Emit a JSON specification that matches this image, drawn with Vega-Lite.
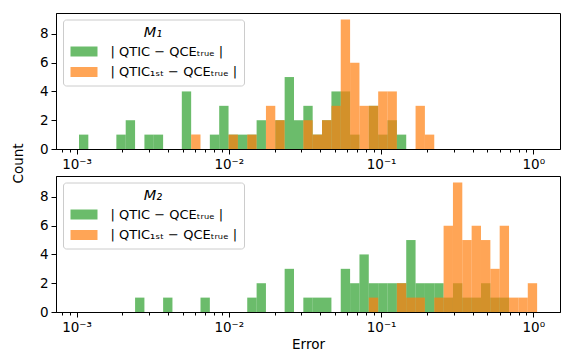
{
  "$schema": "https://vega.github.io/schema/vega-lite/v6.json",
  "padding": {"left": 10, "top": 12, "right": 5, "bottom": 5},
  "background": "white",
  "config": {
    "font": "DejaVu Sans",
    "view": {"stroke": "black", "strokeWidth": 1},
    "axis": {"domainColor": "black", "tickColor": "black", "labelColor": "black", "titleColor": "black", "labelFontSize": 13.5, "titleFontSize": 13.5, "titleFontWeight": "normal", "grid": false, "tickWidth": 1, "domainWidth": 1, "labelPadding": 3},
    "legend": {"labelFontSize": 13, "titleFontSize": 14.5, "labelColor": "black", "titleColor": "black"}
  },
  "datasets": {
    "hist": [
      {"panel": "M1", "s": "g", "lo": 0.0010375, "hi": 0.0011950, "count": 1},
      {"panel": "M1", "s": "g", "lo": 0.0018261, "hi": 0.0021034, "count": 1},
      {"panel": "M1", "s": "g", "lo": 0.0021034, "hi": 0.0024234, "count": 2},
      {"panel": "M1", "s": "g", "lo": 0.0027912, "hi": 0.0032150, "count": 1},
      {"panel": "M1", "s": "g", "lo": 0.0032150, "hi": 0.0037032, "count": 1},
      {"panel": "M1", "s": "g", "lo": 0.0049130, "hi": 0.0056590, "count": 4},
      {"panel": "M1", "s": "g", "lo": 0.0075079, "hi": 0.0086477, "count": 1},
      {"panel": "M1", "s": "g", "lo": 0.0086477, "hi": 0.0099607, "count": 3},
      {"panel": "M1", "s": "g", "lo": 0.0099607, "hi": 0.011473, "count": 1},
      {"panel": "M1", "s": "g", "lo": 0.011473, "hi": 0.013215, "count": 1},
      {"panel": "M1", "s": "g", "lo": 0.013215, "hi": 0.015227, "count": 1},
      {"panel": "M1", "s": "g", "lo": 0.015227, "hi": 0.017538, "count": 2},
      {"panel": "M1", "s": "g", "lo": 0.020200, "hi": 0.023267, "count": 2},
      {"panel": "M1", "s": "g", "lo": 0.023267, "hi": 0.026809, "count": 5},
      {"panel": "M1", "s": "g", "lo": 0.026809, "hi": 0.030868, "count": 2},
      {"panel": "M1", "s": "g", "lo": 0.030868, "hi": 0.035555, "count": 3},
      {"panel": "M1", "s": "g", "lo": 0.035555, "hi": 0.040952, "count": 1},
      {"panel": "M1", "s": "g", "lo": 0.040952, "hi": 0.047206, "count": 2},
      {"panel": "M1", "s": "g", "lo": 0.047206, "hi": 0.054349, "count": 4},
      {"panel": "M1", "s": "g", "lo": 0.054349, "hi": 0.062600, "count": 4},
      {"panel": "M1", "s": "g", "lo": 0.062600, "hi": 0.072130, "count": 1},
      {"panel": "M1", "s": "g", "lo": 0.083051, "hi": 0.095743, "count": 3},
      {"panel": "M1", "s": "g", "lo": 0.095743, "hi": 0.11027, "count": 1},
      {"panel": "M1", "s": "g", "lo": 0.11027, "hi": 0.12701, "count": 2},
      {"panel": "M1", "s": "g", "lo": 0.12701, "hi": 0.14630, "count": 1},
      {"panel": "M1", "s": "o", "lo": 0.0056590, "hi": 0.0065182, "count": 1},
      {"panel": "M1", "s": "o", "lo": 0.0099607, "hi": 0.011473, "count": 1},
      {"panel": "M1", "s": "o", "lo": 0.013215, "hi": 0.015227, "count": 1},
      {"panel": "M1", "s": "o", "lo": 0.017538, "hi": 0.020200, "count": 3},
      {"panel": "M1", "s": "o", "lo": 0.020200, "hi": 0.023267, "count": 2},
      {"panel": "M1", "s": "o", "lo": 0.030868, "hi": 0.035555, "count": 2},
      {"panel": "M1", "s": "o", "lo": 0.035555, "hi": 0.040952, "count": 1},
      {"panel": "M1", "s": "o", "lo": 0.040952, "hi": 0.047206, "count": 2},
      {"panel": "M1", "s": "o", "lo": 0.047206, "hi": 0.054349, "count": 3},
      {"panel": "M1", "s": "o", "lo": 0.054349, "hi": 0.062600, "count": 9},
      {"panel": "M1", "s": "o", "lo": 0.062600, "hi": 0.072130, "count": 6},
      {"panel": "M1", "s": "o", "lo": 0.072130, "hi": 0.083051, "count": 3},
      {"panel": "M1", "s": "o", "lo": 0.083051, "hi": 0.095743, "count": 3},
      {"panel": "M1", "s": "o", "lo": 0.095743, "hi": 0.11027, "count": 4},
      {"panel": "M1", "s": "o", "lo": 0.11027, "hi": 0.12701, "count": 4},
      {"panel": "M1", "s": "o", "lo": 0.16851, "hi": 0.19409, "count": 3},
      {"panel": "M1", "s": "o", "lo": 0.19409, "hi": 0.22356, "count": 1},
      {"panel": "M2", "s": "g", "lo": 0.0024234, "hi": 0.0027912, "count": 1},
      {"panel": "M2", "s": "g", "lo": 0.0037032, "hi": 0.0042654, "count": 1},
      {"panel": "M2", "s": "g", "lo": 0.0065182, "hi": 0.0075079, "count": 1},
      {"panel": "M2", "s": "g", "lo": 0.013215, "hi": 0.015227, "count": 1},
      {"panel": "M2", "s": "g", "lo": 0.015227, "hi": 0.017538, "count": 2},
      {"panel": "M2", "s": "g", "lo": 0.023267, "hi": 0.026809, "count": 3},
      {"panel": "M2", "s": "g", "lo": 0.030868, "hi": 0.035555, "count": 1},
      {"panel": "M2", "s": "g", "lo": 0.035555, "hi": 0.040952, "count": 1},
      {"panel": "M2", "s": "g", "lo": 0.040952, "hi": 0.047206, "count": 1},
      {"panel": "M2", "s": "g", "lo": 0.054349, "hi": 0.062600, "count": 3},
      {"panel": "M2", "s": "g", "lo": 0.062600, "hi": 0.072130, "count": 2},
      {"panel": "M2", "s": "g", "lo": 0.072130, "hi": 0.083051, "count": 4},
      {"panel": "M2", "s": "g", "lo": 0.083051, "hi": 0.095743, "count": 2},
      {"panel": "M2", "s": "g", "lo": 0.095743, "hi": 0.11027, "count": 2},
      {"panel": "M2", "s": "g", "lo": 0.11027, "hi": 0.12701, "count": 2},
      {"panel": "M2", "s": "g", "lo": 0.12701, "hi": 0.14630, "count": 2},
      {"panel": "M2", "s": "g", "lo": 0.14630, "hi": 0.16851, "count": 5},
      {"panel": "M2", "s": "g", "lo": 0.16851, "hi": 0.19409, "count": 2},
      {"panel": "M2", "s": "g", "lo": 0.19409, "hi": 0.22356, "count": 2},
      {"panel": "M2", "s": "g", "lo": 0.22356, "hi": 0.25750, "count": 2},
      {"panel": "M2", "s": "g", "lo": 0.25750, "hi": 0.29660, "count": 1},
      {"panel": "M2", "s": "g", "lo": 0.29660, "hi": 0.34163, "count": 2},
      {"panel": "M2", "s": "g", "lo": 0.34163, "hi": 0.39350, "count": 1},
      {"panel": "M2", "s": "g", "lo": 0.39350, "hi": 0.45324, "count": 1},
      {"panel": "M2", "s": "g", "lo": 0.45324, "hi": 0.52229, "count": 2},
      {"panel": "M2", "s": "g", "lo": 0.52229, "hi": 0.60132, "count": 1},
      {"panel": "M2", "s": "g", "lo": 0.60132, "hi": 0.69262, "count": 1},
      {"panel": "M2", "s": "o", "lo": 0.083051, "hi": 0.095743, "count": 1},
      {"panel": "M2", "s": "o", "lo": 0.12701, "hi": 0.14630, "count": 2},
      {"panel": "M2", "s": "o", "lo": 0.14630, "hi": 0.16851, "count": 1},
      {"panel": "M2", "s": "o", "lo": 0.16851, "hi": 0.19409, "count": 1},
      {"panel": "M2", "s": "o", "lo": 0.22356, "hi": 0.25750, "count": 1},
      {"panel": "M2", "s": "o", "lo": 0.25750, "hi": 0.29660, "count": 6},
      {"panel": "M2", "s": "o", "lo": 0.29660, "hi": 0.34163, "count": 9},
      {"panel": "M2", "s": "o", "lo": 0.34163, "hi": 0.39350, "count": 5},
      {"panel": "M2", "s": "o", "lo": 0.39350, "hi": 0.45324, "count": 6},
      {"panel": "M2", "s": "o", "lo": 0.45324, "hi": 0.52229, "count": 5},
      {"panel": "M2", "s": "o", "lo": 0.52229, "hi": 0.60132, "count": 3},
      {"panel": "M2", "s": "o", "lo": 0.60132, "hi": 0.69262, "count": 6},
      {"panel": "M2", "s": "o", "lo": 0.69262, "hi": 0.79799, "count": 1},
      {"panel": "M2", "s": "o", "lo": 0.79799, "hi": 0.91955, "count": 1},
      {"panel": "M2", "s": "o", "lo": 0.91955, "hi": 1.0593, "count": 2}
    ]
  },
  "spacing": 27,
  "bounds": "flush",
  "resolve": {"legend": {"color": "independent"}},
  "vconcat": [
    {
      "width": 504,
      "height": 136,
      "data": {"name": "hist"},
      "transform": [{"filter": "datum.panel == 'M1'"}],
      "mark": {"type": "bar", "opacity": 0.7},
      "encoding": {
        "x": {"field": "lo", "type": "quantitative",
          "scale": {"type": "log", "domain": [0.000733, 1.497], "nice": false},
          "axis": {"title": null,
            "values": [0.0008, 0.0009, 0.001, 0.002, 0.003, 0.004, 0.005, 0.006, 0.007, 0.008, 0.009, 0.01, 0.02, 0.03, 0.04, 0.05, 0.06, 0.07, 0.08, 0.09, 0.1, 0.2, 0.3, 0.4, 0.5, 0.6, 0.7, 0.8, 0.9, 1],
            "labelExpr": "abs(log(datum.value)/LN10 - round(log(datum.value)/LN10)) < 0.001 ? '10' + ['⁻³','⁻²','⁻¹','⁰'][round(log(datum.value)/LN10) + 3] : ''",
            "tickSize": {"condition": {"test": "abs(log(datum.value)/LN10 - round(log(datum.value)/LN10)) < 0.001", "value": 5}, "value": 3},
            "labelOverlap": false, "labelFlush": false, "labelBound": false}},
        "x2": {"field": "hi"},
        "y": {"field": "count", "type": "quantitative", "stack": null,
          "scale": {"domain": [0, 9.45], "nice": false},
          "axis": {"title": "Count", "values": [0, 2, 4, 6, 8], "tickSize": 5, "titleY": 150, "titlePadding": 14}},
        "y2": {"datum": 0},
        "color": {"field": "s", "type": "nominal",
          "scale": {"domain": ["g", "o"], "range": ["#2ca02c", "#ff7f0e"]},
          "legend": {"orient": "none", "legendX": 7, "legendY": 6.5, "title": "M₁", "titleFontStyle": "italic", "titleFontWeight": "normal", "titleAnchor": "middle", "titlePadding": 5,
            "labelExpr": "datum.value == 'g' ? '| QTIC − QCEₜᵣᵤₑ |' : '| QTIC₁ₛₜ − QCEₜᵣᵤₑ |'",
            "symbolType": "M-2.7,-1H2.7V1H-2.7Z", "symbolSize": 100, "symbolOpacity": 0.7, "symbolStrokeWidth": 0, "symbolOffset": 8.5,
            "labelOffset": 20, "rowPadding": 6.5,
            "fillColor": "rgba(255,255,255,0.8)", "strokeColor": "#cccccc", "cornerRadius": 3, "padding": 6}}
      }
    },
    {
      "width": 504,
      "height": 136,
      "data": {"name": "hist"},
      "transform": [{"filter": "datum.panel == 'M2'"}],
      "mark": {"type": "bar", "opacity": 0.7},
      "encoding": {
        "x": {"field": "lo", "type": "quantitative",
          "scale": {"type": "log", "domain": [0.000733, 1.497], "nice": false},
          "axis": {"title": "Error", "titlePadding": 4,
            "values": [0.0008, 0.0009, 0.001, 0.002, 0.003, 0.004, 0.005, 0.006, 0.007, 0.008, 0.009, 0.01, 0.02, 0.03, 0.04, 0.05, 0.06, 0.07, 0.08, 0.09, 0.1, 0.2, 0.3, 0.4, 0.5, 0.6, 0.7, 0.8, 0.9, 1],
            "labelExpr": "abs(log(datum.value)/LN10 - round(log(datum.value)/LN10)) < 0.001 ? '10' + ['⁻³','⁻²','⁻¹','⁰'][round(log(datum.value)/LN10) + 3] : ''",
            "tickSize": {"condition": {"test": "abs(log(datum.value)/LN10 - round(log(datum.value)/LN10)) < 0.001", "value": 5}, "value": 3},
            "labelOverlap": false, "labelFlush": false, "labelBound": false}},
        "x2": {"field": "hi"},
        "y": {"field": "count", "type": "quantitative", "stack": null,
          "scale": {"domain": [0, 9.45], "nice": false},
          "axis": {"title": null, "values": [0, 2, 4, 6, 8], "tickSize": 5}},
        "y2": {"datum": 0},
        "color": {"field": "s", "type": "nominal",
          "scale": {"domain": ["g", "o"], "range": ["#2ca02c", "#ff7f0e"]},
          "legend": {"orient": "none", "legendX": 7, "legendY": 6.5, "title": "M₂", "titleFontStyle": "italic", "titleFontWeight": "normal", "titleAnchor": "middle", "titlePadding": 5,
            "labelExpr": "datum.value == 'g' ? '| QTIC − QCEₜᵣᵤₑ |' : '| QTIC₁ₛₜ − QCEₜᵣᵤₑ |'",
            "symbolType": "M-2.7,-1H2.7V1H-2.7Z", "symbolSize": 100, "symbolOpacity": 0.7, "symbolStrokeWidth": 0, "symbolOffset": 8.5,
            "labelOffset": 20, "rowPadding": 6.5,
            "fillColor": "rgba(255,255,255,0.8)", "strokeColor": "#cccccc", "cornerRadius": 3, "padding": 6}}
      }
    }
  ]
}
